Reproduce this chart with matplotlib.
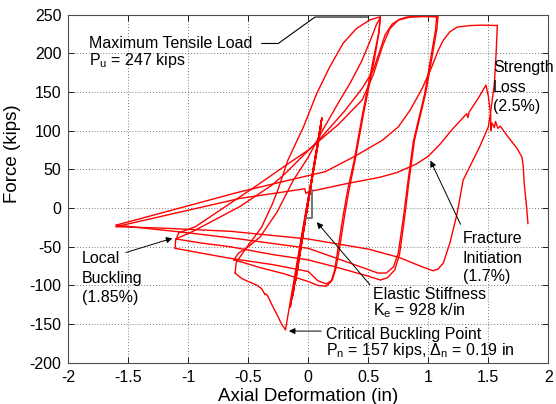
import numpy as np
import matplotlib
matplotlib.use("Agg")
import matplotlib.pyplot as plt

plt.rcParams['font.family'] = ['Liberation Sans', 'DejaVu Sans']
plt.rcParams['mathtext.fontset'] = 'custom'
plt.rcParams['mathtext.rm'] = 'Liberation Sans'
plt.rcParams['mathtext.it'] = 'Liberation Sans:italic'

# ---- hysteresis record (axial deformation in, force kips), stage by stage ----
elastic_x = [-0.01, 0.113, -0.12, 0.105, -0.15, 0.108, -0.105, 0.11, -0.13, 0.1135, -0.19]
elastic_y = [0.0, 116, -100, 104, -128, 112, -94, 114, -114, 117, -157]

buckle_x = [-0.19, -0.22, -0.25, -0.30, -0.34, -0.353, -0.36, -0.39, -0.43, -0.50, -0.555, -0.61]
buckle_y = [-157, -151, -141, -126, -113, -111, -112, -104, -99.5, -95, -91, -84]

r1_x = [-0.61, -0.60, -0.50, -0.39, -0.30, -0.25, -0.17, -0.04, 0.07, 0.18, 0.29, 0.40, 0.51, 0.58, 0.60]
r1_y = [-84, -70, -48, -25, 5, 25, 62, 105, 148, 183, 213, 232, 243, 246.5, 247]

u1_x = [0.60, 0.585, 0.54, 0.45, 0.38, 0.33, 0.29, 0.25, 0.22, 0.19, 0.15, 0.08, 0.00, -0.20, -0.40, -0.55, -0.62]
u1_y = [247, 225, 191, 120, 60, 25, -10, -50, -80, -95, -101, -100, -95, -85, -77, -70, -67]

r2_x = [-0.62, -0.58, -0.50, -0.40, -0.26, -0.125, 0.00, 0.11, 0.25, 0.35, 0.445, 0.52, 0.57, 0.60]
r2_y = [-67, -58, -50, -37, -5, 36, 66, 98, 136, 162, 190, 218, 238, 246]

u2_x = [0.60, 0.59, 0.55, 0.46, 0.39, 0.34, 0.30, 0.26, 0.23, 0.20, 0.15, 0.08, 0.00, -0.30, -0.65, -0.90, -1.11]
u2_y = [246, 228, 192, 122, 62, 24, -12, -52, -78, -93, -98, -94, -82, -73, -65, -58, -52]

r3_x = [-1.11, -1.105, -0.96, -0.57, -0.30, -0.19, 0.10, 0.30, 0.45, 0.54, 0.60, 0.64, 0.70, 0.76, 0.82, 0.95, 1.08]
r3_y = [-52, -40, -30, 2, 30, 45, 90, 125, 155, 178, 205, 224, 238, 244, 247, 248, 247]

u3_x = [1.08, 1.07, 0.98, 0.885, 0.84, 0.80, 0.76, 0.72, 0.66, 0.60, 0.50, 0.20, 0.00, -0.30, -0.65, -0.90, -1.10]
u3_y = [247, 230, 150, 88, 36, -15, -60, -80, -90, -93, -88, -75, -67, -60, -50, -45, -40]

r4_x = [-1.10, -1.08, -0.94, -0.44, -0.19, 0.00, 0.25, 0.45, 0.54, 0.62, 0.68, 0.75, 0.85, 1.07]
r4_y = [-40, -32, -24, 28, 55, 75, 108, 140, 172, 210, 232, 243, 247, 248]

u4_x = [1.07, 1.06, 0.97, 0.875, 0.83, 0.79, 0.75, 0.71, 0.65, 0.58, 0.40, 0.00, -0.57, -1.00, -1.60]
u4_y = [248, 230, 148, 86, 34, -15, -58, -76, -84, -84, -74, -52, -40, -32, -22]

r5_x = [-1.60, -0.57, 0.00, 0.14, 0.40, 0.62, 0.75, 0.85, 0.95, 1.03, 1.08, 1.125, 1.18, 1.24, 1.35, 1.45, 1.575]
r5_y = [-22, 21, 42, 47, 68, 88, 105, 127, 155, 183, 203, 217, 228, 234, 236, 236.5, 236]

u5_x = [1.575, 1.565, 1.55, 1.52, 1.50, 1.43, 1.36, 1.29, 1.24, 1.18, 1.125, 1.08, 1.04, 0.95, 0.76, 0.50, 0.00, -0.65, -1.20, -1.60]
u5_y = [236, 200, 160, 125, 105, 80, 58, 36, -7, -45, -71, -79, -81, -76, -64, -53, -40, -30, -26, -24]

r6_x = [-1.60, -0.57, -0.20, -0.03, -0.02, 0.00, 0.30, 0.60, 0.74, 0.90, 1.00, 1.10, 1.195, 1.32, 1.33, 1.34,
        1.42, 1.48, 1.50, 1.52, 1.52, 1.53, 1.55, 1.56, 1.58, 1.60, 1.65, 1.70, 1.74, 1.78, 1.79, 1.80, 1.82, 1.83]
r6_y = [-24, 12.5, 21, 25, 19, 21, 31, 40, 46, 57, 67, 83, 101, 122, 117, 124,
        143, 159, 145, 120, 100, 110, 104, 112, 103, 106, 95, 85, 77, 66, 55, 30, 0, -20]

stages = [(elastic_x, elastic_y), (buckle_x, buckle_y), (r1_x, r1_y), (u1_x, u1_y),
          (r2_x, r2_y), (u2_x, u2_y), (r3_x, r3_y), (u3_x, u3_y), (r4_x, r4_y),
          (u4_x, u4_y), (r5_x, r5_y), (u5_x, u5_y), (r6_x, r6_y)]

x_ticks = [-2, -1.5, -1, -0.5, 0, 0.5, 1, 1.5, 2]
x_tick_labels = ['-2', '-1.5', '-1', '-0.5', '0', '0.5', '1', '1.5', '2']
y_ticks = [-200, -150, -100, -50, 0, 50, 100, 150, 200, 250]
y_tick_labels = ['-200', '-150', '-100', '-50', '0', '50', '100', '150', '200', '250']

fig = plt.figure(figsize=(5.56, 4.04), dpi=100)
ax = fig.add_axes([0.1228, 0.102, 0.8634, 0.8616])

for sx, sy in stages:
    ax.plot(sx, sy, color='#ff0000', lw=1.0, solid_joinstyle='round')

ax.set_xlim(-2, 2)
ax.set_ylim(-200, 250)
ax.set_xticks(x_ticks)
ax.set_xticklabels(x_tick_labels)
ax.set_yticks(y_ticks)
ax.set_yticklabels(y_tick_labels)
ax.tick_params(direction='in', length=4, width=0.6, top=True, right=True,
               labelsize=11.5, pad=5, colors='k')
ax.grid(True, color='0.3', linestyle=(0, (1, 2.5)), linewidth=0.6)
for sp in ax.spines.values():
    sp.set_color('0.3')
    sp.set_linewidth(0.8)

ax.set_xlabel('Axial Deformation (in)', fontsize=13.5, labelpad=2)
ax.set_ylabel('Force (kips)', fontsize=13.5)
ax.yaxis.set_label_coords(-0.098, 0.6)

fs = 11.5
# elastic stiffness marker
ax.plot([-0.019, 0.028, 0.028], [-13.3, -13.3, 23.3], color='0.45', lw=1.4)

# maximum tensile load leader
ax.plot([-0.388, -0.25, 0.056, 0.5], [212.8, 212.8, 247, 247], color='k', lw=0.8)
ax.text(-1.825, 206.7, 'Maximum Tensile Load', fontsize=fs, va='baseline')
ax.text(-1.825, 185.4, r'P$_\mathregular{u}$ = 247 kips', fontsize=fs, va='baseline')

# strength loss
for s, yy in zip(['Strength', 'Loss', '(2.5%)'], [175.7, 150.3, 125.8]):
    ax.text(1.54, yy, s, fontsize=fs, va='baseline')

# fracture initiation
for s, yy in zip(['Fracture', 'Initiation', '(1.7%)'], [-45.6, -70.7, -93.9]):
    ax.text(1.287, yy, s, fontsize=fs, va='baseline')
ax.annotate('', xy=(1.008, 64.6), xytext=(1.278, -24.2),
            arrowprops=dict(arrowstyle='-|>', color='k', lw=0.7, mutation_scale=9))

# local buckling
for s, yy in zip(['Local', 'Buckling', '(1.85%)'], [-71, -96.5, -121]):
    ax.text(-1.888, yy, s, fontsize=fs, va='baseline')
ax.annotate('', xy=(-1.11, -37.9), xytext=(-1.542, -58.5),
            arrowprops=dict(arrowstyle='-|>', color='k', lw=0.7, mutation_scale=9))

# elastic stiffness
ax.text(0.537, -118, 'Elastic Stiffness', fontsize=fs, va='baseline')
ax.text(0.537, -138.2, r'K$_\mathregular{e}$ = 928 k/in', fontsize=fs, va='baseline')
ax.annotate('', xy=(0.056, -15.5), xytext=(0.528, -101.7),
            arrowprops=dict(arrowstyle='-|>', color='k', lw=0.7, mutation_scale=9))

# critical buckling
ax.text(0.1475, -169.6, 'Critical Buckling Point', fontsize=fs, va='baseline')
ax.text(0.1475, -190, r'P$_\mathregular{n}$ = 157 kips, $\Delta_\mathregular{n}$ = 0.19 in',
        fontsize=fs, va='baseline')
ax.annotate('', xy=(-0.185, -159), xytext=(0.131, -159),
            arrowprops=dict(arrowstyle='-|>', color='k', lw=0.7, mutation_scale=9))

fig.savefig('out.png', dpi=100)
